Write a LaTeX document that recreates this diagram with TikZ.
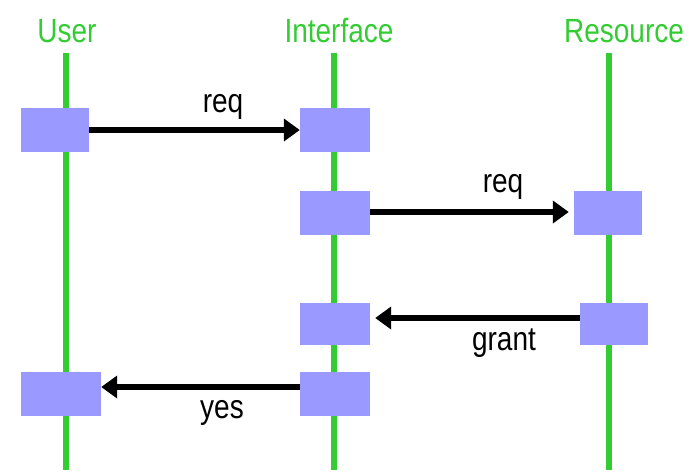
\documentclass[tikz,border=0pt]{standalone}
\usepackage{fontspec}
\setmainfont{Liberation Sans}
\usepackage{xcolor}
\usepackage{tikz}
\usetikzlibrary{arrows.meta}

\definecolor{lifegreen}{RGB}{51,204,51}
\definecolor{actblue}{RGB}{153,153,255}
\newcommand{\tallfont}[1]{\scalebox{1}[1.2]{\fontsize{28}{32}\selectfont #1}}

\begin{document}
\begin{tikzpicture}[x=1pt,y=-1pt,
    life/.style={color=lifegreen, line width=6.5pt},
    actbox/.style={fill=actblue, draw=none, inner sep=0pt, minimum height=44pt},
    msg/.style={line width=6pt, -{Triangle[length=16pt,width=22pt]}},
    head/.style={anchor=base, text=lifegreen, inner sep=0pt},
    lbl/.style={anchor=base, inner sep=0pt}]
          \useasboundingbox (0,0) rectangle (692,472);

          % lifelines and their names
          \node[head] (user) at (67,42) {\tallfont{User}};
          \node[head] (iface) at (339,42) {\tallfont{Interface}};
          \node[head] (res) at (624,42) {\tallfont{Resource}};
          \draw[life] (66,53) -- (66,470);
          \draw[life] (334,53) -- (334,470);
          \draw[life] (609,53) -- (609,470);

          % activation boxes
          \node[actbox, minimum width=68pt] (u1) at (55,130) {};
          \node[actbox, minimum width=70pt] (i1) at (335,130) {};
          \node[actbox, minimum width=70pt] (i2) at (335,213) {};
          \node[actbox, minimum width=68pt] (r1) at (608,213) {};
          \node[actbox, minimum width=70pt, minimum height=42pt] (i3) at (335,324) {};
          \node[actbox, minimum width=68pt, minimum height=42pt] (r2) at (614,324) {};
          \node[actbox, minimum width=80pt] (u2) at (61,394) {};
          \node[actbox, minimum width=70pt] (i4) at (335,394) {};

          % messages
          \draw[msg] (u1.east) -- (i1.west);
          \draw[msg, shorten >=5pt] ([yshift=1pt]i2.east) -- ([yshift=1pt]r1.west);
          \draw[msg, shorten >=5pt] ([yshift=6pt]r2.west) -- ([yshift=6pt]i3.east);
          \draw[msg] ([yshift=7pt]i4.west) -- ([yshift=7pt]u2.east);

          \node[lbl] (l1) at (223,112) {\tallfont{req}};
          \node[lbl] (l2) at (503,192) {\tallfont{req}};
          \node[lbl] (l3) at (504,350) {\tallfont{grant}};
          \node[lbl] (l4) at (222,418) {\tallfont{yes}};
        \end{tikzpicture}
\end{document}
